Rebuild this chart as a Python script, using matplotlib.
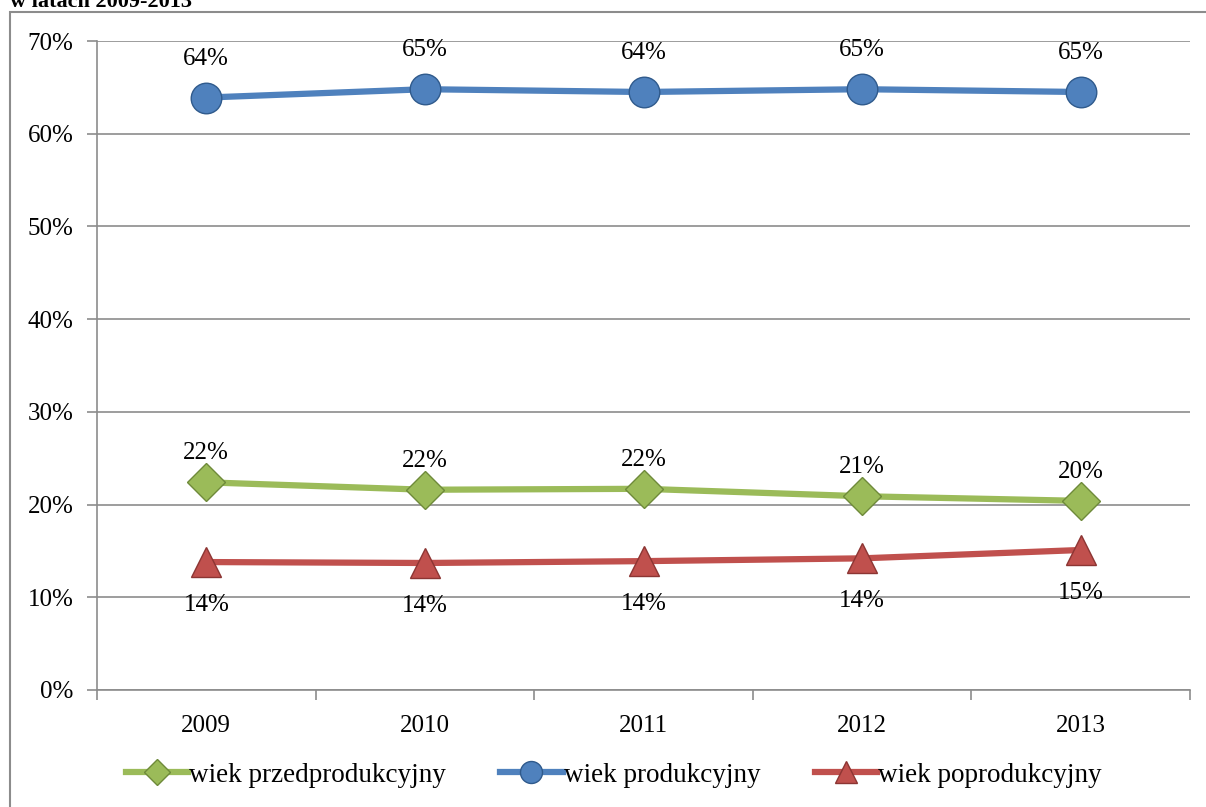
import matplotlib.pyplot as plt
from matplotlib.patches import Rectangle
from matplotlib.ticker import FuncFormatter
import numpy as np

plt.rcParams['font.family'] = ['Liberation Serif', 'DejaVu Serif']

years = ['2009', '2010', '2011', '2012', '2013']
przed = [22.4, 21.6, 21.7, 20.9, 20.4]
prod = [63.9, 64.8, 64.5, 64.8, 64.5]
poprod = [13.8, 13.7, 13.9, 14.2, 15.1]
przed_lbl = ['22%', '22%', '22%', '21%', '20%']
prod_lbl = ['64%', '65%', '64%', '65%', '65%']
poprod_lbl = ['14%', '14%', '14%', '14%', '15%']

fig = plt.figure(figsize=(12.06, 8.07), dpi=100)
ax = fig.add_axes([97/1206, 1 - 690/807, (1190-97)/1206, (690-41)/807])

# chart border (cut off at right/bottom like the source)
fig.patches.append(Rectangle((10/1206, -0.1), 1.2, 1 - 12/807 + 0.1,
                             transform=fig.transFigure, fill=False,
                             edgecolor='#8c8c8c', linewidth=1.5))
fig.text(10/1206, 1 - 7/807, 'w latach 2009-2013', fontsize=16,
         fontweight='bold', ha='left', va='baseline')

x = np.arange(len(years))
series = [
    (przed, przed_lbl, '#9BBB59', '#6E8A3A', 'D', 19, 'wiek przedprodukcyjny', 21),
    (prod, prod_lbl, '#4F81BD', '#2F5A8C', 'o', 22, 'wiek produkcyjny', 28),
    (poprod, poprod_lbl, '#C0504D', '#8C3533', '^', 22, 'wiek poprodukcyjny', -31),
]
for vals, lbls, col, edge, mk, ms, name, off in series:
    ax.plot(x, vals, color=col, linewidth=4.5, marker=mk, markersize=ms,
            markerfacecolor=col, markeredgecolor=edge, markeredgewidth=1,
            label=name, zorder=3)
    for xi, v, t in zip(x, vals, lbls):
        ax.annotate(t, (xi, v), xytext=(0, off), textcoords='offset points',
                    ha='center', va='center', fontsize=18)

ax.set_xlim(-0.5, 4.5)
ax.set_ylim(0, 70)
ax.set_yticks(range(0, 71, 10))
ax.yaxis.set_major_formatter(FuncFormatter(lambda v, p: '%d%%' % v))
ax.set_xticks(np.arange(-0.5, 5, 1))
ax.set_xticklabels([])
ax.set_xticks(x, minor=True)
ax.set_xticklabels(years, minor=True)
ax.tick_params(axis='x', which='minor', length=0, pad=18, labelsize=18)
ax.tick_params(axis='x', which='major', length=7, color='#8c8c8c', width=1.2)
ax.tick_params(axis='y', length=7, color='#8c8c8c', width=1.2, labelsize=18, pad=10)
ax.grid(axis='y', color='#8c8c8c', linewidth=1.2)
ax.set_axisbelow(True)
for s in ['top', 'right']:
    ax.spines[s].set_visible(False)
for s in ['left', 'bottom']:
    ax.spines[s].set_color('#8c8c8c')
    ax.spines[s].set_linewidth(1.2)

leg = fig.legend(loc='center', bbox_to_anchor=(0.509, 1 - 775/807), ncol=3,
                 frameon=False, fontsize=19.5, handlelength=2.3,
                 handletextpad=0.05, columnspacing=2.0, markerscale=0.72)

fig.savefig('out.png', dpi=100)
